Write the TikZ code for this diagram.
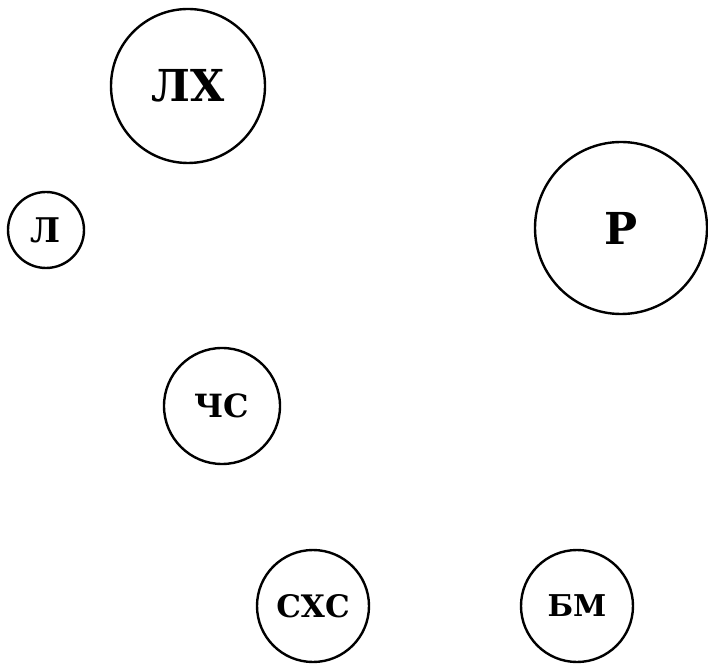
\documentclass[tikz,border=0pt]{standalone}
\usepackage{fontspec}
\setmainfont{DejaVu Serif}
\begin{document}
\begin{tikzpicture}[x=1pt,y=1pt,
  circ/.style={draw=black,line width=2.4pt,circle,inner sep=0pt,font=\bfseries}]
\useasboundingbox (0,0) rectangle (708,666);
\node[circ,minimum size=154pt,font=\bfseries\fontsize{44}{48}\selectfont] (lx) at (188,580) {ЛХ};
\node[circ,minimum size=76pt,font=\bfseries\fontsize{34}{38}\selectfont] (l) at (46,436) {Л};
\node[circ,minimum size=172pt,font=\bfseries\fontsize{44}{48}\selectfont] (r) at (621,438) {Р};
\node[circ,minimum size=116pt,font=\bfseries\fontsize{32}{36}\selectfont] (chs) at (222,260) {ЧС};
\node[circ,minimum size=112pt,font=\bfseries\fontsize{31}{35}\selectfont] (sxs) at (313,60) {СХС};
\node[circ,minimum size=112pt,font=\bfseries\fontsize{30}{34}\selectfont] (bm) at (577,60) {БМ};
\end{tikzpicture}
\end{document}
